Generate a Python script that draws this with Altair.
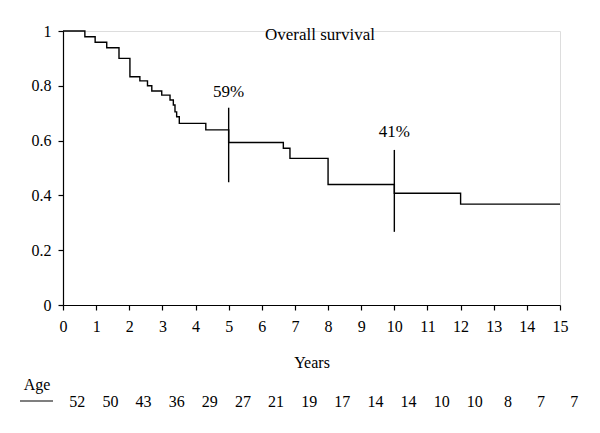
import altair as alt
import pandas as pd

# Kaplan-Meier step curve
years = [0, 0.66, 0.97, 1.32, 1.69, 2.02, 2.32, 2.55, 2.68, 2.98, 3.23, 3.33, 3.38,
         3.43, 3.51, 4.31, 5.0, 6.65, 6.85, 8.0, 10.0, 12.0, 15.0]
survival = [1.0, 0.979, 0.959, 0.939, 0.900, 0.833, 0.818, 0.800, 0.781, 0.766, 0.748,
            0.730, 0.705, 0.687, 0.663, 0.639, 0.593, 0.572, 0.535, 0.440, 0.408, 0.368, 0.368]

# confidence bars at 5 and 10 years
bar_years = [5, 10]
bar_low = [0.448, 0.267]
bar_high = [0.720, 0.566]
bar_labels = ["59%", "41%"]
label_y = [0.777, 0.631]

# numbers at risk
risk_years = list(range(16))
at_risk = [52, 50, 43, 36, 29, 27, 21, 19, 17, 14, 14, 10, 10, 8, 7, 7]

x_ticks = list(range(16))
y_ticks = [0, 0.2, 0.4, 0.6, 0.8, 1]

FONT = "Liberation Serif"

curve_df = pd.DataFrame({"year": years, "surv": survival})
bars_df = pd.DataFrame({"year": bar_years, "lo": bar_low, "hi": bar_high,
                        "label": bar_labels, "ly": label_y})
risk_df = pd.DataFrame({"year": risk_years, "n": at_risk})

xscale = alt.Scale(domain=[0, 15], nice=False, zero=False)
yscale = alt.Scale(domain=[0, 1], nice=False)

xaxis = alt.Axis(values=x_ticks, title="Years", grid=False, tickSize=5,
                 labelPadding=8, titlePadding=20, labelFontSize=16, titleFontSize=16,
                 labelFont=FONT, titleFont=FONT, titleFontWeight="normal",
                 labelOverlap=False, labelFlush=False,
                 domainColor="black", tickColor="black", labelColor="black",
                 titleColor="black", domainWidth=1.2, tickWidth=1.2)
yaxis = alt.Axis(values=y_ticks, title=None, grid=False, tickSize=5,
                 labelPadding=7, labelFontSize=16, labelFont=FONT,
                 labelOverlap=False, labelFlush=False,
                 labelExpr="datum.value == 0 ? '0' : datum.value == 1 ? '1' : format(datum.value, '.1f')",
                 domainColor="black", tickColor="black", labelColor="black",
                 domainWidth=1.2, tickWidth=1.2)

X = lambda f: alt.X(f, scale=xscale, axis=xaxis)
Y = lambda f: alt.Y(f, scale=yscale, axis=yaxis)

curve = alt.Chart(curve_df).mark_line(interpolate="step-after", color="black",
                                      strokeWidth=1.4).encode(
    x=X("year:Q"), y=Y("surv:Q"),
)

bars = alt.Chart(bars_df).mark_rule(color="black", strokeWidth=1.4).encode(
    x=X("year:Q"), y=Y("lo:Q"), y2="hi:Q"
)

bar_text = alt.Chart(bars_df).mark_text(font=FONT, fontSize=17, color="black").encode(
    x=X("year:Q"), y=Y("ly:Q"), text="label:N"
)

title = alt.Chart(pd.DataFrame({"t": ["Overall survival"]})).mark_text(
    font=FONT, fontSize=17, color="black").encode(
    x=alt.value(257), y=alt.value(4), text="t:N"
)

risk = alt.Chart(risk_df).transform_calculate(xpos="datum.year + 0.43").mark_text(
    font=FONT, fontSize=16, color="black").encode(
    x=X("xpos:Q"), y=alt.value(371), text="n:Q"
)

age = alt.Chart(pd.DataFrame({"t": ["Age"]})).mark_text(
    font=FONT, fontSize=16, color="black").encode(
    x=alt.value(-26), y=alt.value(354), text="t:N"
)

age_line = alt.Chart(pd.DataFrame({"t": [0]})).mark_rule(color="black", strokeWidth=1.2).encode(
    x=alt.value(-43), x2=alt.value(-10), y=alt.value(370)
)

chart = alt.layer(curve, bars, bar_text, title, risk, age, age_line).properties(
    width=497, height=274,
    autosize=alt.AutoSizeParams(type="none"),
    padding={"left": 55, "top": 23, "right": 20, "bottom": 116},
).configure_view(strokeWidth=0).configure(background="white")

chart.save("out.html", embed_options={"renderer": "svg", "actions": False})
